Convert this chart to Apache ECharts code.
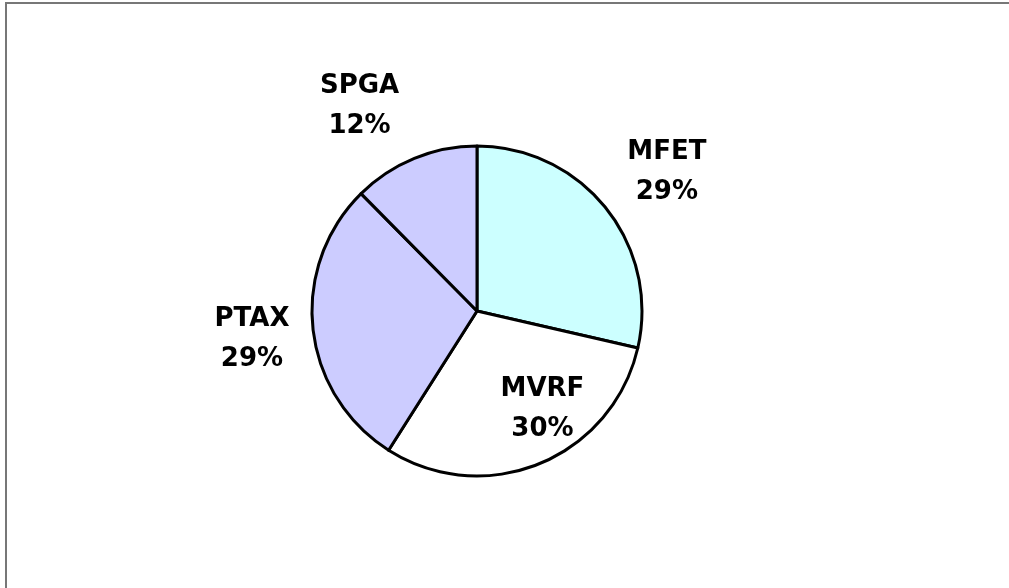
<!DOCTYPE html>
<html>
<head>
<meta charset="utf-8">
<script src="https://cdn.jsdelivr.net/npm/echarts@6/dist/echarts.min.js"></script>
<style>
html,body{margin:0;padding:0;background:#fff;}
#chart{width:1009px;height:588px;}
</style>
</head>
<body>
<div id="chart"></div>
<script>
// Data
const categories = ['MFET', 'MVRF', 'PTAX', 'SPGA'];
const values = [28.6, 30.4, 28.6, 12.4];

// Styles (not data)
const sliceColors = ['#CCFFFF', '#FFFFFF', '#CCCCFF', '#CCCCFF'];
const labelShift = {
  MFET: [123, -86],
  MVRF: [33, 19],
  PTAX: [-140, 19],
  SPGA: [-85, -126]
};

const chart = echarts.init(document.getElementById('chart'), null, {renderer: 'canvas'});
chart.setOption({
  animation: false,
  backgroundColor: '#ffffff',
  graphic: [{
    type: 'rect',
    silent: true,
    shape: {x: 6, y: 3, width: 1100, height: 700},
    style: {fill: 'none', stroke: '#777777', lineWidth: 2}
  }],
  series: [{
    type: 'pie',
    center: [477, 311],
    radius: 165,
    startAngle: 90,
    clockwise: true,
    percentPrecision: 0,
    silent: true,
    emphasis: {disabled: true},
    itemStyle: {borderColor: '#000000', borderWidth: 3},
    label: {
      show: true,
      position: 'inside',
      formatter: '{b}\n{d}%',
      fontFamily: 'DejaVu Sans',
      fontWeight: 'bold',
      fontSize: 26,
      lineHeight: 40,
      color: '#000000',
      align: 'center'
    },
    labelLine: {show: false},
    labelLayout: function (p) {
      const s = labelShift[p.text.split('\n')[0]] || [0, 0];
      return {dx: s[0], dy: s[1]};
    },
    data: categories.map((c, i) => ({
      name: c,
      value: values[i],
      itemStyle: {color: sliceColors[i]}
    }))
  }]
});
</script>
</body>
</html>
